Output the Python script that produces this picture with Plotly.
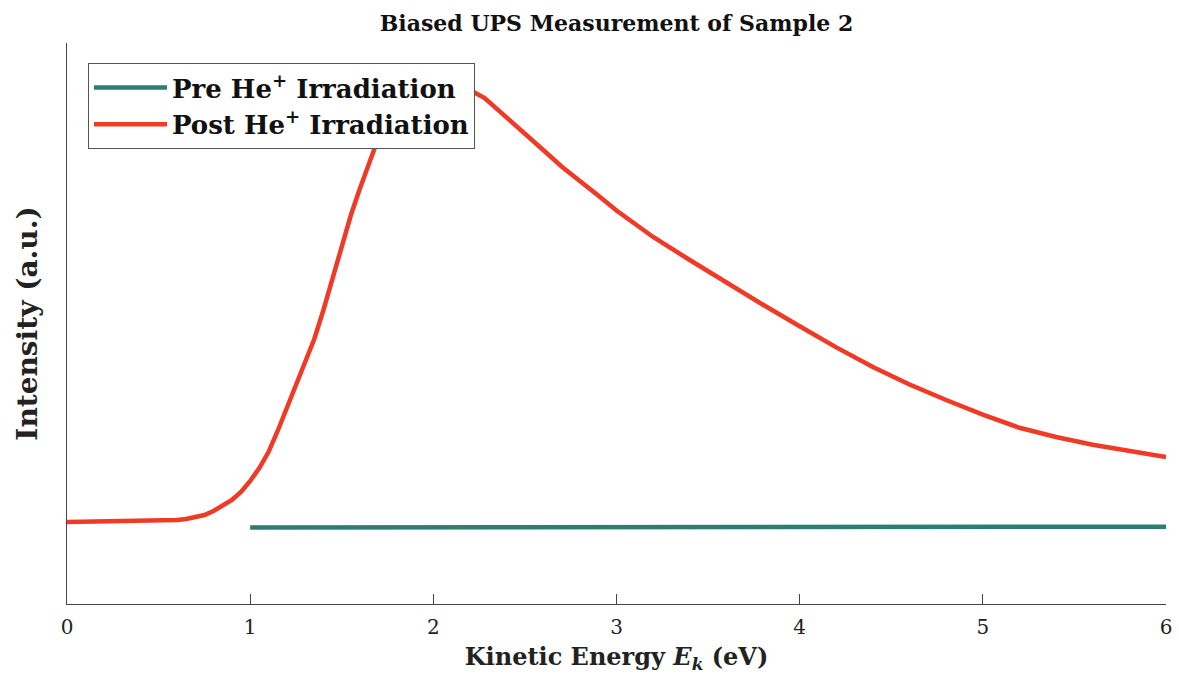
import plotly.graph_objects as go

# Kinetic energy grid (eV) and measured intensity (arbitrary units)
energy_post = [0.00, 0.20, 0.40, 0.60, 0.65, 0.70, 0.75, 0.80, 0.85, 0.90, 0.95,
               1.00, 1.05, 1.10, 1.15, 1.20, 1.25, 1.30, 1.35, 1.40, 1.45, 1.50,
               1.55, 1.60, 1.65, 1.70, 1.75, 1.80, 1.85, 1.90, 1.95, 2.00, 2.05,
               2.10, 2.15, 2.20, 2.28, 2.40, 2.50, 2.60, 2.70, 2.80, 2.90, 3.00,
               3.20, 3.40, 3.60, 3.80, 4.00, 4.20, 4.40, 4.60, 4.80, 5.00, 5.20,
               5.40, 5.60, 5.80, 6.00]
intensity_post = [0.1462, 0.1471, 0.1480, 0.1497, 0.1515, 0.1551, 0.1586, 0.1658,
                  0.1747, 0.1854, 0.1996, 0.2193, 0.2424, 0.2709, 0.3084, 0.3494,
                  0.3922, 0.4314, 0.4724, 0.5241, 0.5811, 0.6399, 0.6934, 0.7415,
                  0.7879, 0.8307, 0.8681, 0.8984, 0.9198, 0.9340, 0.9412, 0.9430,
                  0.9412, 0.9358, 0.9269, 0.9162, 0.9020, 0.8663, 0.8378, 0.8093,
                  0.7799, 0.7547, 0.7280, 0.7014, 0.6542, 0.6132, 0.5727, 0.5335,
                  0.4952, 0.4574, 0.4225, 0.3913, 0.3636, 0.3376, 0.3141, 0.2977,
                  0.2840, 0.2722, 0.2620]

energy_pre = [1.0, 2.0, 3.0, 4.0, 5.0, 6.0]
intensity_pre = [0.1364, 0.1367, 0.1369, 0.1373, 0.1381, 0.1378]

x_ticks = [0, 1, 2, 3, 4, 5, 6]

SERIF = "DejaVu Serif"
TEAL = "#2a7f72"
RED = "#f03a25"
AXIS = "#444444"

fig = go.Figure()
fig.add_trace(go.Scatter(
    x=energy_pre, y=intensity_pre, mode="lines",
    name="<b>Pre He<sup>+</sup> Irradiation</b>",
    line=dict(color=TEAL, width=4.5),
))
fig.add_trace(go.Scatter(
    x=energy_post, y=intensity_post, mode="lines",
    name="<b>Post He<sup>+</sup> Irradiation</b>",
    line=dict(color=RED, width=4.5),
))

fig.update_layout(
    width=1179, height=675,
    margin=dict(l=67, r=13, t=43, b=71, autoexpand=False),
    paper_bgcolor="white", plot_bgcolor="white",
    font=dict(family=SERIF, color="#111111"),
    title=dict(text="<b>Biased UPS Measurement of Sample 2</b>",
               x=(67 + 1166) / 2 / 1179, xanchor="center",
               y=1 - 23 / 675, yanchor="middle",
               font=dict(family=SERIF, size=22, color="#111111")),
    showlegend=True,
    legend=dict(
        x=0.0191, y=0.9643, xanchor="left", yanchor="top",
        bgcolor="white", bordercolor="#555555", borderwidth=1,
        font=dict(family=SERIF, size=26, color="#111111"),
        itemwidth=73, tracegroupgap=0,
    ),
    xaxis=dict(
        range=[0, 6], tickvals=x_ticks, ticktext=[str(t) for t in x_ticks],
        showline=True, linecolor=AXIS, linewidth=1, mirror=False,
        ticks="inside", ticklen=10, tickcolor=AXIS, tickwidth=1,
        showgrid=False, zeroline=False, automargin=False,
        ticklabelstandoff=5,
        tickfont=dict(family=SERIF, size=20, color="#222222"),
        title=dict(text="<b>Kinetic Energy <i>E<sub>k</sub></i> (eV)</b>",
                   font=dict(family=SERIF, size=24, color="#222222"),
                   standoff=10),
    ),
    yaxis=dict(
        range=[0, 1], showline=True, linecolor=AXIS, linewidth=1,
        showticklabels=False, ticks="", showgrid=False, zeroline=False,
        automargin=False,
        title=dict(text="<b>Intensity (a.u.)</b>",
                   font=dict(family=SERIF, size=28, color="#222222"),
                   standoff=20),
    ),
)

fig.write_html("out.html")
